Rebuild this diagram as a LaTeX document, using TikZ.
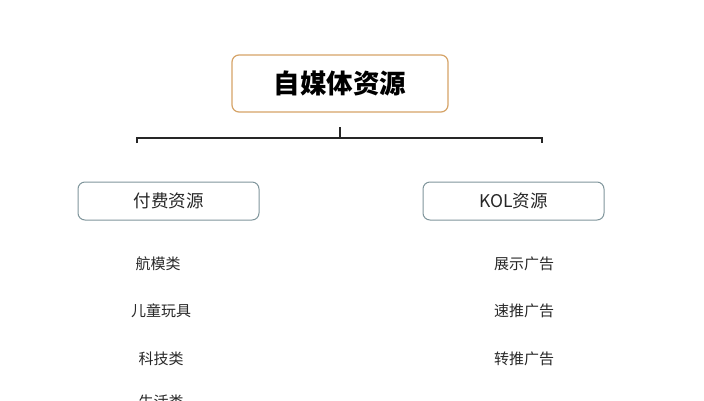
\documentclass[tikz,border=0pt]{standalone}
\usepackage{fontspec}
\newfontfamily\cjk{Noto Sans CJK SC}
\newfontfamily\cjkb{Noto Sans CJK SC Bold}
\definecolor{titleborder}{RGB}{214,164,104}
\definecolor{subborder}{RGB}{128,150,156}
\definecolor{itemtext}{RGB}{40,40,40}
\tikzset{
  titlebox/.style={draw=titleborder, line width=1.2pt, rounded corners=7pt, minimum width=216pt, minimum height=57pt, inner sep=0pt, font=\cjk\bfseries\fontsize{26.5}{29}\selectfont, text=black},
  subbox/.style={draw=subborder, line width=1pt, rounded corners=7pt, minimum width=181pt, minimum height=38pt, inner sep=0pt, font=\cjk\fontsize{17.5}{19}\selectfont, text=black!85},
  itemlabel/.style={inner sep=0pt, font=\cjk\fontsize{15}{17}\selectfont, text=itemtext},
  bracket/.style={draw=black!85, line width=1.6pt}
}
\begin{document}
\begin{tikzpicture}[x=1pt,y=1pt]
\useasboundingbox (0,0) rectangle (704,-400);
\fill[white] (0,0) rectangle (704,-400);
\node[titlebox] (title) at (340,-83.5) {自媒体资源};
\coordinate (tc) at (340,-127);
\coordinate (tj) at (340,-138);
\coordinate (lj) at (137,-138);
\coordinate (rj) at (542,-138);
\coordinate (le) at (137,-143);
\coordinate (re) at (542,-143);
\draw[bracket] (tc) -- (tj);
\draw[bracket] (le) -- (lj) -- (rj) -- (re);
\node[subbox] (paid) at (168.5,-201) {付费资源};
\node[subbox] (kol) at (513.5,-201) {KOL资源};
\node[itemlabel] (a1) at (158,-264) {航模类};
\node[itemlabel] (a2) at (161,-311) {儿童玩具};
\node[itemlabel] (a3) at (161,-359) {科技类};
\node[itemlabel] (a4) at (161,-402) {生活类};
\node[itemlabel] (b1) at (524,-264) {展示广告};
\node[itemlabel] (b2) at (524,-311) {速推广告};
\node[itemlabel] (b3) at (524,-359) {转推广告};
\end{tikzpicture}
\end{document}
